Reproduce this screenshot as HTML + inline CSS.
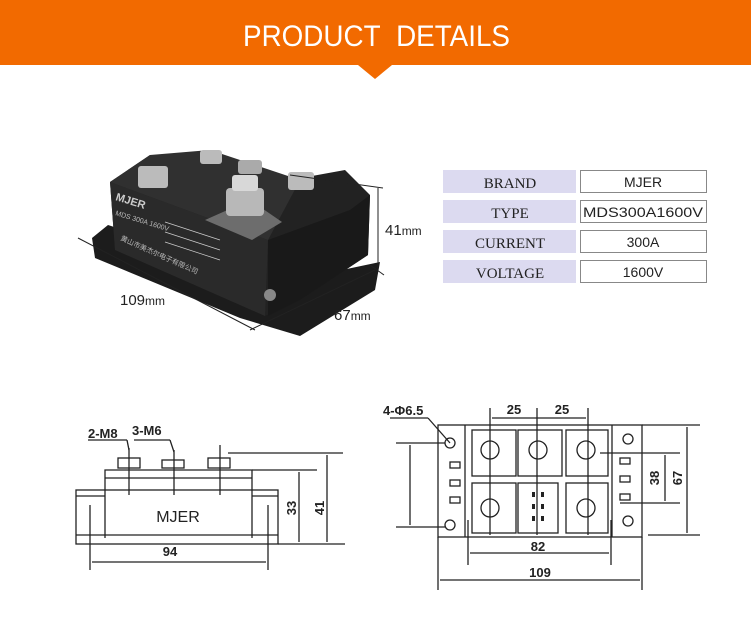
<!DOCTYPE html>
<html><head><meta charset="utf-8"><style>
body{margin:0;width:751px;height:624px;background:#fff;overflow:hidden;font-family:"Liberation Sans",sans-serif}
</style></head><body>
<svg width="751" height="624" viewBox="0 0 751 624" xmlns="http://www.w3.org/2000/svg">
<rect x="0" y="0" width="751" height="65" fill="#F26A00"/>
<polygon points="358,65 392,65 375,79" fill="#F26A00"/>
<text x="243" y="46" fill="#fff" font-size="30" textLength="267" lengthAdjust="spacingAndGlyphs" font-family="Liberation Sans, sans-serif">PRODUCT&#160; DETAILS</text>

<!-- product photo -->
<g>
<polygon points="92,238 108,225 285,282 380,262 375,290 300,336 240,318 95,258" fill="#1c1c1c"/>
<polygon points="110,182 150,155 290,180 345,170 370,195 368,255 300,300 265,316 115,250" fill="#222"/>
<polygon points="110,182 115,250 265,316 268,240" fill="#2a2a2a"/>
<polygon points="268,240 350,210 370,195 368,255 300,300 268,316" fill="#191919"/>
<polygon points="150,155 210,150 300,180 268,240 110,182" fill="#303030"/>
<polygon points="205,220 250,200 282,222 252,240" fill="#6d6d6d"/>
<rect x="226" y="188" width="38" height="28" rx="4" fill="#b8b8b8"/>
<rect x="232" y="175" width="26" height="16" rx="3" fill="#d8d8d8"/>
<rect x="138" y="166" width="30" height="22" rx="3" fill="#bbb"/>
<rect x="200" y="150" width="22" height="14" rx="3" fill="#bbb"/>
<rect x="238" y="160" width="24" height="14" rx="3" fill="#aaa"/>
<rect x="288" y="172" width="26" height="18" rx="3" fill="#bbb"/>
<circle cx="270" cy="295" r="6" fill="#888"/>
<text x="115" y="200" fill="#ccc" font-size="11" font-weight="bold" transform="rotate(17 115 200)">MJER</text>
<text x="115" y="215" fill="#bbb" font-size="7" transform="rotate(17 115 215)">MDS 300A 1600V</text>
<text x="120" y="240" fill="#bbb" font-size="7" transform="rotate(24 120 240)">黄山市美杰尔电子有限公司</text>
<g stroke="#ccc" stroke-width="0.7" fill="none"><path d="M165,222 L220,240 M165,232 L220,250 M165,242 L220,260"/></g>
</g>
<g stroke="#222" stroke-width="1" fill="none">
<line x1="290" y1="175" x2="383" y2="188"/>
<line x1="370" y1="265" x2="384" y2="275"/>
<line x1="378" y1="188" x2="378" y2="268"/>
<line x1="78" y1="238" x2="255" y2="330"/>
<line x1="250" y1="330" x2="375" y2="270"/>
</g>
<text x="385" y="235" font-size="15" fill="#222">41<tspan font-size="12">mm</tspan></text>
<text x="120" y="305" font-size="15" fill="#222">109<tspan font-size="12">mm</tspan></text>
<text x="334" y="320" font-size="15" fill="#222">67<tspan font-size="12">mm</tspan></text>

<!-- table -->
<g font-family="Liberation Serif, serif" font-size="15" fill="#222" text-anchor="middle">
<rect x="443" y="170" width="133" height="23" fill="#dcdaf0"/><text x="510" y="188">BRAND</text>
<rect x="443" y="200" width="133" height="23" fill="#dcdaf0"/><text x="510" y="218">TYPE</text>
<rect x="443" y="230" width="133" height="23" fill="#dcdaf0"/><text x="510" y="248">CURRENT</text>
<rect x="443" y="260" width="133" height="23" fill="#dcdaf0"/><text x="510" y="278">VOLTAGE</text>
</g>
<g font-family="Liberation Sans, sans-serif" font-size="14" fill="#222" text-anchor="middle">
<rect x="580.5" y="170.5" width="126" height="22" fill="#fff" stroke="#888"/><text x="643" y="187">MJER</text>
<rect x="580.5" y="200.5" width="126" height="22" fill="#fff" stroke="#888"/><text x="643" y="217" textLength="120" lengthAdjust="spacingAndGlyphs">MDS300A1600V</text>
<rect x="580.5" y="230.5" width="126" height="22" fill="#fff" stroke="#888"/><text x="643" y="247">300A</text>
<rect x="580.5" y="260.5" width="126" height="22" fill="#fff" stroke="#888"/><text x="643" y="277">1600V</text>
</g>

<!-- left drawing -->
<g stroke="#222" stroke-width="1.3" fill="none">
<rect x="76" y="490" width="202" height="54"/>
<path d="M105,538 L105,470 L252,470 L252,538"/>
<path d="M105,478 L252,478"/>
<line x1="76" y1="496" x2="105" y2="496"/><line x1="252" y1="496" x2="278" y2="496"/>
<line x1="76" y1="535" x2="278" y2="535"/>
<rect x="118" y="458" width="22" height="10"/><rect x="162" y="460" width="22" height="8"/><rect x="208" y="458" width="22" height="10"/>
<line x1="129" y1="448" x2="129" y2="495"/><line x1="174" y1="450" x2="174" y2="495"/><line x1="220" y1="445" x2="220" y2="495"/>
<line x1="228" y1="453" x2="343" y2="453"/>
<line x1="252" y1="470" x2="317" y2="470"/>
<line x1="278" y1="544" x2="345" y2="544"/>
<line x1="299" y1="472" x2="299" y2="542"/><line x1="327" y1="455" x2="327" y2="542"/>
<line x1="90" y1="505" x2="90" y2="570"/><line x1="268" y1="505" x2="268" y2="570"/>
<line x1="92" y1="562" x2="266" y2="562"/>
<line x1="88" y1="440" x2="127" y2="440"/><line x1="127" y1="440" x2="129" y2="450"/>
<line x1="134" y1="440" x2="170" y2="440"/><line x1="170" y1="440" x2="174" y2="452"/>
</g>
<g font-size="13" font-weight="bold" fill="#222">
<text x="88" y="438">2-M8</text><text x="132" y="435">3-M6</text>
<text x="170" y="556" text-anchor="middle">94</text>
<text x="296" y="508" transform="rotate(-90 296 508)" text-anchor="middle">33</text>
<text x="324" y="508" transform="rotate(-90 324 508)" text-anchor="middle">41</text>
</g>
<text x="178" y="522" font-size="16" fill="#222" text-anchor="middle">MJER</text>

<!-- right drawing -->
<g stroke="#222" stroke-width="1.3" fill="none">
<rect x="438" y="425" width="204" height="112"/>
<line x1="465" y1="425" x2="465" y2="537"/><line x1="612" y1="425" x2="612" y2="537"/>
<rect x="472" y="430" width="44" height="46"/><rect x="518" y="430" width="44" height="46"/><rect x="566" y="430" width="42" height="46"/>
<rect x="472" y="483" width="44" height="50"/><rect x="518" y="483" width="40" height="50"/><rect x="566" y="483" width="42" height="50"/>
<circle cx="490" cy="450" r="9"/><circle cx="538" cy="450" r="9"/><circle cx="586" cy="450" r="9"/>
<circle cx="490" cy="508" r="9"/><circle cx="586" cy="508" r="9"/>
<circle cx="450" cy="443" r="5"/><circle cx="628" cy="439" r="5"/><circle cx="450" cy="525" r="5"/><circle cx="628" cy="521" r="5"/>
<rect x="450" y="462" width="10" height="6"/><rect x="450" y="480" width="10" height="6"/><rect x="450" y="497" width="10" height="6"/>
<rect x="620" y="458" width="10" height="6"/><rect x="620" y="476" width="10" height="6"/><rect x="620" y="494" width="10" height="6"/>
<line x1="490" y1="408" x2="490" y2="535"/><line x1="537" y1="408" x2="537" y2="535"/><line x1="588" y1="408" x2="588" y2="535"/>
<line x1="492" y1="418" x2="586" y2="418"/>
<line x1="468" y1="520" x2="468" y2="565"/><line x1="611" y1="520" x2="611" y2="565"/>
<line x1="470" y1="553" x2="609" y2="553"/>
<line x1="438" y1="537" x2="438" y2="590"/><line x1="642" y1="537" x2="642" y2="590"/>
<line x1="440" y1="580" x2="640" y2="580"/>
<line x1="396" y1="443" x2="445" y2="443"/><line x1="396" y1="527" x2="445" y2="527"/><line x1="410" y1="445" x2="410" y2="525"/>
<line x1="600" y1="453" x2="680" y2="453"/><line x1="620" y1="503" x2="680" y2="503"/><line x1="665" y1="455" x2="665" y2="501"/>
<line x1="642" y1="425" x2="700" y2="425"/><line x1="648" y1="535" x2="700" y2="535"/><line x1="687" y1="427" x2="687" y2="533"/>
<line x1="390" y1="418" x2="428" y2="418"/><line x1="428" y1="418" x2="450" y2="443"/>
</g>
<g fill="#222">
<rect x="532" y="492" width="3" height="5"/><rect x="541" y="492" width="3" height="5"/>
<rect x="532" y="504" width="3" height="5"/><rect x="541" y="504" width="3" height="5"/>
<rect x="532" y="516" width="3" height="5"/><rect x="541" y="516" width="3" height="5"/>
</g>
<g font-size="13" font-weight="bold" fill="#222">
<text x="383" y="415">4-Φ6.5</text>
<text x="514" y="414" text-anchor="middle">25</text><text x="562" y="414" text-anchor="middle">25</text>
<text x="538" y="551" text-anchor="middle">82</text>
<text x="540" y="577" text-anchor="middle">109</text>
<text x="659" y="478" transform="rotate(-90 659 478)" text-anchor="middle">38</text>
<text x="682" y="478" transform="rotate(-90 682 478)" text-anchor="middle">67</text>
</g>
</svg>
</body></html>
